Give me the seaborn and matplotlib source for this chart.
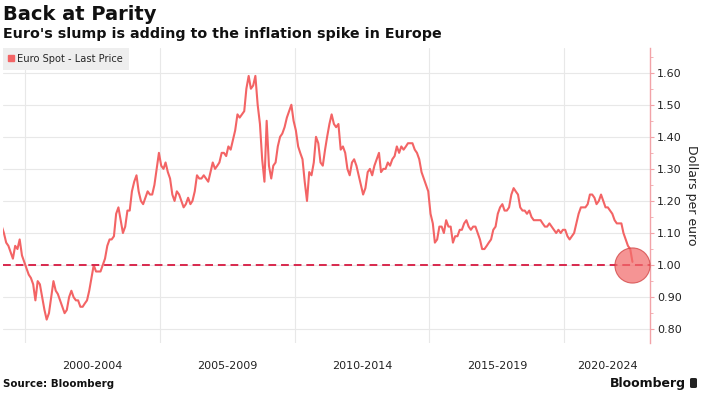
import pandas as pd
import numpy as np
import matplotlib
matplotlib.use('Agg')
import matplotlib.pyplot as plt
import matplotlib.ticker as mticker
from matplotlib.lines import Line2D
from matplotlib.patches import FancyBboxPatch
import seaborn as sns

# Euro spot (dollars per euro), monthly readings from Feb 1999 to Jul 2022
eur_1999 = [1.12, 1.10, 1.07, 1.06, 1.04, 1.02, 1.06, 1.05, 1.08, 1.03, 1.01]
eur_2000 = [0.99, 0.97, 0.96, 0.94, 0.89, 0.95, 0.94, 0.90, 0.86, 0.83, 0.85, 0.90]
eur_2001 = [0.95, 0.92, 0.91, 0.89, 0.87, 0.85, 0.86, 0.90, 0.92, 0.90, 0.89, 0.89]
eur_2002 = [0.87, 0.87, 0.88, 0.89, 0.92, 0.96, 1.00, 0.98, 0.98, 0.98, 1.00, 1.02]
eur_2003 = [1.06, 1.08, 1.08, 1.09, 1.16, 1.18, 1.14, 1.10, 1.12, 1.17, 1.17, 1.23]
eur_2004 = [1.26, 1.28, 1.23, 1.20, 1.19, 1.21, 1.23, 1.22, 1.22, 1.25, 1.30, 1.35]
eur_2005 = [1.31, 1.30, 1.32, 1.29, 1.27, 1.22, 1.20, 1.23, 1.22, 1.20, 1.18, 1.19]
eur_2006 = [1.21, 1.19, 1.20, 1.23, 1.28, 1.27, 1.27, 1.28, 1.27, 1.26, 1.29, 1.32]
eur_2007 = [1.30, 1.31, 1.32, 1.35, 1.35, 1.34, 1.37, 1.36, 1.39, 1.42, 1.47, 1.46]
eur_2008 = [1.47, 1.48, 1.55, 1.59, 1.55, 1.56, 1.59, 1.50, 1.44, 1.33, 1.26, 1.45]
eur_2009 = [1.31, 1.27, 1.31, 1.32, 1.37, 1.40, 1.41, 1.43, 1.46, 1.48, 1.50, 1.45]
eur_2010 = [1.42, 1.37, 1.35, 1.33, 1.26, 1.20, 1.29, 1.28, 1.32, 1.40, 1.38, 1.32]
eur_2011 = [1.31, 1.36, 1.40, 1.44, 1.47, 1.44, 1.43, 1.44, 1.36, 1.37, 1.35, 1.30]
eur_2012 = [1.28, 1.32, 1.33, 1.31, 1.28, 1.25, 1.22, 1.24, 1.29, 1.30, 1.28, 1.31]
eur_2013 = [1.33, 1.35, 1.29, 1.30, 1.30, 1.32, 1.31, 1.33, 1.34, 1.37, 1.35, 1.37]
eur_2014 = [1.36, 1.37, 1.38, 1.38, 1.38, 1.36, 1.35, 1.33, 1.29, 1.27, 1.25, 1.23]
eur_2015 = [1.16, 1.13, 1.07, 1.08, 1.12, 1.12, 1.10, 1.14, 1.12, 1.12, 1.07, 1.09]
eur_2016 = [1.09, 1.11, 1.11, 1.13, 1.14, 1.12, 1.11, 1.12, 1.12, 1.10, 1.08, 1.05]
eur_2017 = [1.05, 1.06, 1.07, 1.08, 1.11, 1.12, 1.16, 1.18, 1.19, 1.17, 1.17, 1.18]
eur_2018 = [1.22, 1.24, 1.23, 1.22, 1.18, 1.17, 1.17, 1.16, 1.17, 1.15, 1.14, 1.14]
eur_2019 = [1.14, 1.14, 1.13, 1.12, 1.12, 1.13, 1.12, 1.11, 1.10, 1.11, 1.10, 1.11]
eur_2020 = [1.11, 1.09, 1.08, 1.09, 1.10, 1.13, 1.16, 1.18, 1.18, 1.18, 1.19, 1.22]
eur_2021 = [1.22, 1.21, 1.19, 1.20, 1.22, 1.20, 1.18, 1.18, 1.17, 1.16, 1.14, 1.13]
eur_2022 = [1.13, 1.13, 1.10, 1.08, 1.06, 1.05, 1.01]

period_labels = ['2000-2004', '2005-2009', '2010-2014', '2015-2019', '2020-2024']
period_starts = ['2000-01-01', '2005-01-01', '2010-01-01', '2015-01-01', '2020-01-01']
y_ticks = [0.80, 0.90, 1.00, 1.10, 1.20, 1.30, 1.40, 1.50, 1.60]
parity = 1.00
parity_date = '2022-07-14'

values = (eur_1999 + eur_2000 + eur_2001 + eur_2002 + eur_2003 + eur_2004 + eur_2005 +
          eur_2006 + eur_2007 + eur_2008 + eur_2009 + eur_2010 + eur_2011 + eur_2012 +
          eur_2013 + eur_2014 + eur_2015 + eur_2016 + eur_2017 + eur_2018 + eur_2019 +
          eur_2020 + eur_2021 + eur_2022)
dates = pd.date_range('1999-02-01', periods=len(values), freq='MS') + pd.Timedelta(days=14)
df = pd.DataFrame({'date': dates, 'price': values})

sns.set_style('white')
plt.rcParams['font.family'] = ['DejaVu Sans']

line_red = '#f36465'
dash_red = '#d8284d'
axis_red = '#f2a3a8'
text_dark = '#222222'

fig = plt.figure(figsize=(7.05, 3.99), dpi=100)
ax = fig.add_axes([2.5 / 705, 1 - 343 / 399, (650 - 2.5) / 705, (343 - 48) / 399])

sns.lineplot(data=df, x='date', y='price', ax=ax, color=line_red, linewidth=1.5, zorder=3)

x_left = pd.Timestamp('1999-02-24')
x_right = pd.Timestamp('2023-03-10')
ax.set_xlim(x_left, x_right)
ax.set_ylim(0.757, 1.677)

# parity line and highlight circle
ax.axhline(parity, color=dash_red, linewidth=1.4, dashes=(4, 2.5), zorder=4)
ax.scatter([pd.Timestamp(parity_date)], [parity], s=640, facecolor='#f26b6b', alpha=0.72,
           edgecolor='#cf3b3b', linewidth=0.8, zorder=5)

# y axis on the right
ax.yaxis.tick_right()
ax.yaxis.set_label_position('right')
ax.set_yticks(y_ticks)
ax.yaxis.set_major_formatter(mticker.FormatStrFormatter('%.2f'))
ax.yaxis.set_minor_locator(mticker.MultipleLocator(0.05))
ax.tick_params(axis='y', which='major', length=3, width=0.8, color=axis_red,
               labelsize=8, labelcolor=text_dark, pad=2)
ax.tick_params(axis='y', which='minor', length=2, width=0.6, color=axis_red)
ax.set_ylabel('Dollars per euro', rotation=270, fontsize=9, color=text_dark, labelpad=12)

# x axis: gridlines at period starts, labels centered in each period
starts = [pd.Timestamp(s) for s in period_starts]
ends = starts[1:] + [x_right]
centers = [a + (b - a) / 2 for a, b in zip(starts, ends)]
ax.set_xticks(starts)
ax.set_xticklabels([])
ax.set_xticks(centers, minor=True)
ax.set_xticklabels(period_labels, minor=True)
ax.tick_params(axis='x', which='both', length=0)
ax.tick_params(axis='x', which='minor', labelsize=8, labelcolor=text_dark, pad=13)
ax.set_xlabel('')

ax.grid(True, which='major', color='#e8e8e8', linewidth=0.8, zorder=0)
for s in ['left', 'top', 'bottom']:
    ax.spines[s].set_visible(False)
ax.spines['right'].set_color(axis_red)
ax.spines['right'].set_linewidth(1.0)

# legend box
handle = Line2D([], [], marker='s', linestyle='none', color=line_red, markersize=5)
leg = ax.legend([handle], ['Euro Spot - Last Price'], loc='upper left', bbox_to_anchor=(0.0, 1.0),
                borderaxespad=0, frameon=True, fontsize=7.1, handlelength=0.6, handletextpad=0.3,
                borderpad=0.6, fancybox=False)
leg.get_frame().set_facecolor('#eeeeee')
leg.get_frame().set_edgecolor('none')
leg.get_frame().set_alpha(1)
leg.set_zorder(6)

# titles and footer
fig.text(3 / 705, 1 - 15 / 399, 'Back at Parity', fontsize=14, fontweight='bold',
         color='#111111', va='center', ha='left')
fig.text(3 / 705, 1 - 34 / 399, "Euro's slump is adding to the inflation spike in Europe",
         fontsize=10.3, fontweight='bold', color='#111111', va='center', ha='left')
fig.text(3 / 705, 1 - 384 / 399, 'Source: Bloomberg', fontsize=7.4, fontweight='bold',
         color='#111111', va='center', ha='left')
fig.text(686 / 705, 1 - 383 / 399, 'Bloomberg', fontsize=9, fontweight='semibold',
         color='#111111', va='center', ha='right')
fig.patches.append(FancyBboxPatch((690 / 705, 1 - 388 / 399), 7 / 705, 10 / 399,
                                  boxstyle='round,pad=0,rounding_size=0.003',
                                  transform=fig.transFigure, facecolor='#222222',
                                  edgecolor='none'))

plt.savefig('out.png', dpi=100)
